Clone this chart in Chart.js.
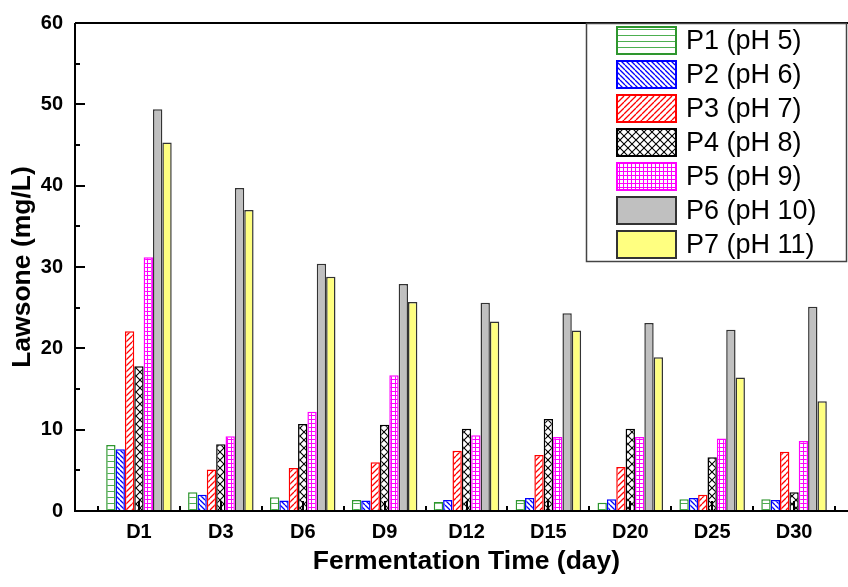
<!DOCTYPE html>
<html>
<head>
<meta charset="utf-8">
<script src="https://cdn.jsdelivr.net/npm/chart.js@4.4.1/dist/chart.umd.min.js"></script>
<style>
  html, body { margin: 0; padding: 0; background: #fff; }
  canvas { display: block; }
</style>
</head>
<body>
<canvas id="chart" width="848" height="587"></canvas>
<script>
// Donnees
const categories = ['D1', 'D3', 'D6', 'D9', 'D12', 'D15', 'D20', 'D25', 'D30'];
const seriesLabels = ['P1 (pH 5)', 'P2 (pH 6)', 'P3 (pH 7)', 'P4 (pH 8)', 'P5 (pH 9)', 'P6 (pH 10)', 'P7 (pH 11)'];
const p1 = [8.1, 2.3, 1.7, 1.35, 1.1, 1.35, 1.0, 1.45, 1.45];
const p2 = [7.6, 2.0, 1.3, 1.3, 1.35, 1.6, 1.45, 1.6, 1.35];
const p3 = [22.1, 5.1, 5.3, 6.0, 7.4, 6.9, 5.4, 2.0, 7.3];
const p4 = [17.8, 8.2, 10.7, 10.6, 10.1, 11.3, 10.1, 6.6, 2.3];
const p5 = [31.2, 9.2, 12.2, 16.7, 9.3, 9.1, 9.1, 8.9, 8.6];
const p6 = [49.4, 39.7, 30.4, 27.9, 25.6, 24.3, 23.1, 22.3, 25.1];
const p7 = [45.3, 37.0, 28.8, 25.7, 23.3, 22.2, 18.9, 16.4, 13.5];
const yMajorTicks = [0, 10, 20, 30, 40, 50, 60];

const FONT = "'Liberation Sans', Arial, sans-serif";

// ==================== MOTIFS ====================

function makePattern(size, draw) {
    const c = document.createElement('canvas');
    c.width = size;
    c.height = size;
    const g = c.getContext('2d');
    g.fillStyle = '#fff';
    g.fillRect(0, 0, size, size);
    draw(g, size);
    return document.getElementById('chart').getContext('2d').createPattern(c, 'repeat');
}

const patHoriz = makePattern(6, (g, n) => {
    g.strokeStyle = '#4caf50';
    g.lineWidth = 1;
    g.beginPath();
    g.moveTo(0, n - 0.5);
    g.lineTo(n, n - 0.5);
    g.stroke();
});

function diag(g, n, back) {
    g.beginPath();
    for (const k of [-n, 0, n]) {
        if (back) { g.moveTo(k, 0); g.lineTo(k + n, n); }
        else { g.moveTo(k, n); g.lineTo(k + n, 0); }
    }
    g.stroke();
}

const patBack = makePattern(5, (g, n) => {
    g.strokeStyle = '#0000ff';
    g.lineWidth = 1.3;
    diag(g, n, true);
});

const patFwd = makePattern(6, (g, n) => {
    g.strokeStyle = '#ff0000';
    g.lineWidth = 1.3;
    diag(g, n, false);
});

const patCross = makePattern(8, (g, n) => {
    g.strokeStyle = '#000';
    g.lineWidth = 1.1;
    diag(g, n, true);
    diag(g, n, false);
});

const patGrid = makePattern(4, (g, n) => {
    g.strokeStyle = '#ff00ff';
    g.lineWidth = 1;
    g.beginPath();
    g.moveTo(0, n - 0.5); g.lineTo(n, n - 0.5);
    g.moveTo(n - 0.5, 0); g.lineTo(n - 0.5, n);
    g.stroke();
});

const fills = [patHoriz, patBack, patFwd, patCross, patGrid, '#c0c0c0', '#ffff80'];
const borders = ['#2e962e', '#0000ff', '#ff0000', '#000000', '#ff00ff', '#333333', '#333333'];
const values = [p1, p2, p3, p4, p5, p6, p7];

// ==================== PLUGINS ====================

// Cadre et graduations des axes
const axesFrame = {
    id: 'axesFrame',
    afterDatasetsDraw(chart) {
        const ctx = chart.ctx;
        const x = chart.scales.x;
        const y = chart.scales.y;
        const left = 75;
        const right = chart.width;
        const top = y.getPixelForValue(60);
        const bottom = y.getPixelForValue(0);
        ctx.save();
        ctx.strokeStyle = '#000';
        ctx.lineWidth = 2;
        ctx.beginPath();
        ctx.moveTo(left, top);
        ctx.lineTo(right, top);
        ctx.moveTo(left, top);
        ctx.lineTo(left, bottom);
        ctx.moveTo(left - 1, bottom);
        ctx.lineTo(right, bottom);
        // graduations Y
        for (let v = 0; v <= 60; v += 5) {
            const py = Math.round(y.getPixelForValue(v));
            const len = v % 10 === 0 ? 10 : 5;
            ctx.moveTo(left, py);
            ctx.lineTo(left + len, py);
        }
        // graduations X
        const step = x.getPixelForValue(1) - x.getPixelForValue(0);
        for (let i = 0; i < categories.length; i++) {
            const c = Math.round(x.getPixelForValue(i));
            ctx.moveTo(c, bottom);
            ctx.lineTo(c, bottom - 10);
        }
        for (let i = 0; i <= categories.length; i++) {
            const b = Math.round(x.getPixelForValue(0) - step / 2 + i * step);
            ctx.moveTo(b, bottom);
            ctx.lineTo(b, bottom - 5);
        }
        ctx.stroke();
        ctx.restore();
    }
};

// Legende dans le coin superieur droit
const boxLegend = {
    id: 'boxLegend',
    afterDraw(chart) {
        const ctx = chart.ctx;
        const bx = 586, by = 23, bw = 261, bh = 239;
        ctx.save();
        ctx.fillStyle = '#fff';
        ctx.fillRect(bx, by, bw, bh);
        ctx.strokeStyle = '#444';
        ctx.lineWidth = 1.5;
        ctx.strokeRect(bx + 0.5, by + 0.5, bw - 1, bh - 1);
        ctx.font = '27px ' + FONT;
        ctx.textBaseline = 'middle';
        chart.data.datasets.forEach((ds, i) => {
            const sy = 26 + i * 34;
            ctx.fillStyle = ds.backgroundColor;
            ctx.fillRect(616, sy, 61, 29);
            ctx.strokeStyle = ds.borderColor;
            ctx.lineWidth = 2;
            ctx.strokeRect(617, sy + 1, 59, 27);
            ctx.fillStyle = '#000';
            ctx.fillText(ds.label, 686, sy + 16);
        });
        ctx.restore();
    }
};

// ==================== GRAPHIQUE ====================

new Chart(document.getElementById('chart'), {
    type: 'bar',
    data: {
        labels: categories,
        datasets: seriesLabels.map((label, i) => ({
            label: label,
            data: values[i],
            backgroundColor: fills[i],
            borderColor: borders[i],
            borderWidth: 1.5,
            categoryPercentage: 0.8,
            barPercentage: 1.0
        }))
    },
    options: {
        responsive: false,
        animation: false,
        devicePixelRatio: 1,
        layout: { padding: { top: 23, right: 13, left: 0, bottom: 0 } },
        plugins: {
            legend: { display: false },
            tooltip: { enabled: false }
        },
        scales: {
            x: {
                grid: { display: false },
                border: { display: false },
                ticks: {
                    color: '#000',
                    padding: 1,
                    font: { family: FONT, size: 20, weight: 'bold' }
                },
                title: {
                    display: true,
                    text: 'Fermentation Time (day)',
                    color: '#000',
                    padding: { top: 0, bottom: 9 },
                    font: { family: FONT, size: 26.5, weight: 'bold' }
                },
                afterFit(scale) {
                    scale.height = 76;
                    scale.paddingLeft = 0;
                    scale.paddingRight = 0;
                }
            },
            y: {
                min: 0,
                max: 60,
                grid: { display: false },
                border: { display: false },
                afterBuildTicks(scale) {
                    scale.ticks = yMajorTicks.map(v => ({ value: v }));
                },
                ticks: {
                    color: '#000',
                    padding: 27,
                    font: { family: FONT, size: 20, weight: 'bold' }
                },
                title: {
                    display: true,
                    text: 'Lawsone (mg/L)',
                    color: '#000',
                    padding: { top: 7, bottom: 0 },
                    font: { family: FONT, size: 26.5, weight: 'bold' }
                },
                afterFit(scale) {
                    scale.width = 98;
                    scale.paddingTop = 0;
                    scale.paddingBottom = 0;
                }
            }
        }
    },
    plugins: [axesFrame, boxLegend]
});
</script>
</body>
</html>
